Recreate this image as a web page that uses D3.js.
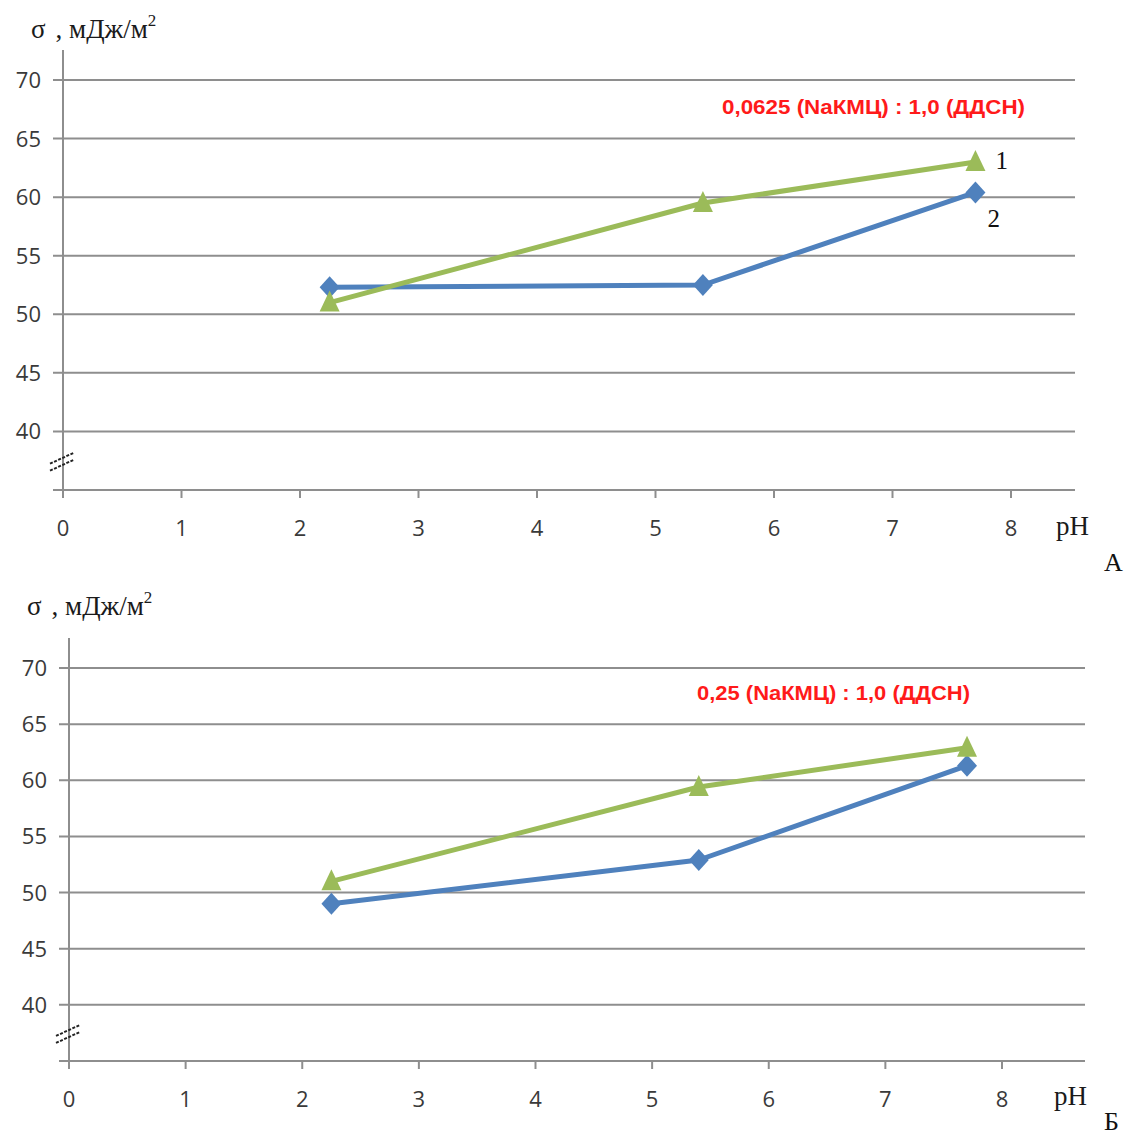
<!DOCTYPE html>
<html>
<head>
<meta charset="utf-8">
<script src="https://cdnjs.cloudflare.com/ajax/libs/d3/7.8.5/d3.min.js"></script>
<style>
  html, body { margin: 0; padding: 0; background: #fff; }
  svg { display: block; }
</style>
</head>
<body>
<svg id="chart" width="1132" height="1135"></svg>
<script>
// pH values of the measured solutions
const phValues = [2.25, 5.4, 7.7];

// Surface tension σ, mJ/m², panel A (0,0625 NaКМЦ : 1,0 ДДСН)
const panelA_curve1 = [51.0, 59.5, 63.0];
const panelA_curve2 = [52.3, 52.5, 60.4];

// Surface tension σ, mJ/m², panel Б (0,25 NaКМЦ : 1,0 ДДСН)
const panelB_curve1 = [51.0, 59.4, 62.9];
const panelB_curve2 = [49.0, 52.9, 61.3];

// Axis tick labels
const xTicks = [0, 1, 2, 3, 4, 5, 6, 7, 8];
const yTicks = [40, 45, 50, 55, 60, 65, 70];

const panelTitles = ["0,0625 (NaКМЦ)  : 1,0 (ДДСН)", "0,25 (NaКМЦ)  : 1,0 (ДДСН)"];
const panelLetters = ["А", "Б"];
const curveNames = ["1", "2"];

const GREEN = "#9bbb59";
const BLUE = "#4f81bd";
const GRID = "#8e8e8e";
const SERIF = "'Liberation Serif', 'DejaVu Serif', serif";

const svg = d3.select("#chart");

const panels = [
  { curves: [panelA_curve1, panelA_curve2], title: panelTitles[0], letter: panelLetters[0],
    x0: 63, x8: 1011, right: 1075, yTop: 80, yBot: 490,
    titleX: 722, titleY: 114, titleW: 303, labelY: 38, labelX: 31,
    phX: 1056, phY: 535, letterX: 1104, letterY: 571, showNames: true },
  { curves: [panelB_curve1, panelB_curve2], title: panelTitles[1], letter: panelLetters[1],
    x0: 69, x8: 1002, right: 1085, yTop: 668, yBot: 1061,
    titleX: 697, titleY: 700, titleW: 273, labelY: 615, labelX: 27,
    phX: 1054, phY: 1105, letterX: 1104, letterY: 1130, showNames: false }
];

panels.forEach(p => drawPanel(p));

function drawPanel(p) {
  const g = svg.append("g");
  const xMax = 8 * (p.right - p.x0) / (p.x8 - p.x0);
  const x = d3.scaleLinear().domain([0, xMax]).range([p.x0, p.right]);
  const y = d3.scaleLinear().domain([35, 70]).range([p.yBot, p.yTop]);

  // horizontal gridlines (including the baseline at the axis break)
  const gridVals = [35].concat(yTicks);
  g.selectAll("line.grid").data(gridVals).join("line")
    .attr("x1", x(0) - 10).attr("x2", x(xMax))
    .attr("y1", d => y(d)).attr("y2", d => y(d))
    .attr("stroke", GRID).attr("stroke-width", 2);

  // vertical axis
  g.append("line")
    .attr("x1", x(0)).attr("x2", x(0))
    .attr("y1", p.yTop - 30).attr("y2", p.yBot + 8)
    .attr("stroke", GRID).attr("stroke-width", 2);

  // x ticks
  g.selectAll("line.xt").data(xTicks).join("line")
    .attr("x1", d => x(d)).attr("x2", d => x(d))
    .attr("y1", p.yBot).attr("y2", p.yBot + 8)
    .attr("stroke", GRID).attr("stroke-width", 2);

  // y tick labels
  g.selectAll("text.yl").data(yTicks).join("text")
    .attr("x", x(0) - 22).attr("y", d => y(d) + 8)
    .attr("text-anchor", "end")
    .attr("font-family", "'Open Sans', 'Liberation Sans', sans-serif")
    .attr("font-size", 22).attr("fill", "#3a3a3a")
    .text(d => d);

  // x tick labels
  g.selectAll("text.xl").data(xTicks).join("text")
    .attr("x", d => x(d)).attr("y", p.yBot + 46)
    .attr("text-anchor", "middle")
    .attr("font-family", "'Open Sans', 'Liberation Sans', sans-serif")
    .attr("font-size", 22).attr("fill", "#3a3a3a")
    .text(d => d);

  // axis break mark
  const bx = x(0), by = (y(40) + y(35)) / 2;
  [-3, 4].forEach(off => {
    g.append("line")
      .attr("x1", bx - 13).attr("y1", by + off + 6)
      .attr("x2", bx + 11).attr("y2", by + off - 5)
      .attr("stroke", "#222").attr("stroke-width", 2)
      .attr("stroke-dasharray", "3,1.5");
  });

  // curves: 1 — green triangles, 2 — blue diamonds
  const colors = [GREEN, BLUE];
  const line = d3.line().x(d => x(d[0])).y(d => y(d[1]));
  // draw curve 2 under curve 1
  [1, 0].forEach(i => {
    const pts = phValues.map((ph, k) => [ph, p.curves[i][k]]);
    g.append("path").attr("d", line(pts))
      .attr("fill", "none").attr("stroke", colors[i])
      .attr("stroke-width", 5).attr("stroke-linejoin", "round");
    g.selectAll(null).data(pts).join("path")
      .attr("transform", d => `translate(${x(d[0])},${y(d[1])})`)
      .attr("d", i === 0 ? "M0,-12 L10,9 L-10,9 Z" : "M0,-11 L10,0 L0,11 L-10,0 Z")
      .attr("fill", colors[i]);
  });

  // curve numbers
  if (p.showNames) {
    const last = phValues.length - 1;
    g.append("text")
      .attr("x", x(phValues[last]) + 20).attr("y", y(p.curves[0][last]) + 7)
      .attr("font-family", SERIF).attr("font-size", 25)
      .attr("fill", "#111").text(curveNames[0]);
    g.append("text")
      .attr("x", x(phValues[last]) + 12).attr("y", y(p.curves[1][last]) + 35)
      .attr("font-family", SERIF).attr("font-size", 25)
      .attr("fill", "#111").text(curveNames[1]);
  }

  // composition annotation
  g.append("text")
    .attr("x", p.titleX).attr("y", p.titleY)
    .attr("textLength", p.titleW).attr("lengthAdjust", "spacingAndGlyphs")
    .attr("font-family", "'Liberation Sans Narrow', 'Liberation Sans', sans-serif")
    .attr("font-weight", "bold").attr("font-size", 21)
    .attr("fill", "#ff1a1a").text(p.title);

  // axis titles
  const yl = g.append("text")
    .attr("x", p.labelX).attr("y", p.labelY)
    .attr("font-family", SERIF).attr("font-size", 27)
    .attr("fill", "#1a1a1a");
  yl.append("tspan").text("σ");
  yl.append("tspan").attr("dx", 10).text(", мДж/м");
  yl.append("tspan").attr("dy", -12).attr("font-size", 17).text("2");

  g.append("text")
    .attr("x", p.phX).attr("y", p.phY)
    .attr("font-family", SERIF).attr("font-size", 27)
    .attr("fill", "#1a1a1a").text("pH");

  g.append("text")
    .attr("x", p.letterX).attr("y", p.letterY)
    .attr("font-family", SERIF).attr("font-size", 26)
    .attr("fill", "#111").text(p.letter);
}
</script>
</body>
</html>
